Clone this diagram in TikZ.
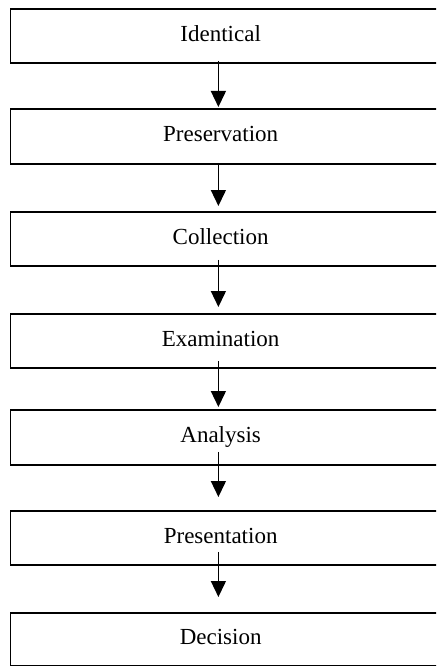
\documentclass[tikz,border=0pt]{standalone}
\usepackage{fontspec}
\setmainfont{Liberation Serif}
\usetikzlibrary{arrows.meta}
\begin{document}
\begin{tikzpicture}[x=1pt,y=1pt,
  stagebox/.style={draw=black, line width=1.8pt, rectangle, inner sep=0pt,
    minimum width=440pt, anchor=north west, text height=16pt, text depth=5pt,
    font=\fontsize{23}{26}\selectfont},
  arr/.style={line width=1.4pt, -{Triangle[length=16pt,width=15pt]}}]
\useasboundingbox (0,0) rectangle (436,-666);
\fill[white] (0,0) rectangle (436,-666);
\begin{scope}
\clip (0,0) rectangle (436,-666);
\node[stagebox, minimum height=54pt] (b1) at (9.5,-8) {\hspace*{-19.5pt}Identical};
\node[stagebox, minimum height=55pt] (b2) at (9.5,-108) {\hspace*{-19.5pt}Preservation};
\node[stagebox, minimum height=54pt] (b3) at (9.5,-211) {\hspace*{-19.5pt}Collection};
\node[stagebox, minimum height=54pt] (b4) at (9.5,-313) {\hspace*{-19.5pt}Examination};
\node[stagebox, minimum height=55pt] (b5) at (9.5,-409) {\hspace*{-19.5pt}Analysis};
\node[stagebox, minimum height=54pt] (b6) at (9.5,-510) {\hspace*{-19.5pt}Presentation};
\node[stagebox, minimum height=53pt] (b7) at (9.5,-612) {\hspace*{-19.5pt}Decision};
\end{scope}
\draw[arr] ([xshift=-12pt,yshift=3pt]b1.south) -- ([xshift=-12pt,yshift=1pt]b2.north);
\draw[arr] ([xshift=-12pt,yshift=2pt]b2.south) -- ([xshift=-12pt,yshift=5pt]b3.north);
\draw[arr] ([xshift=-12pt,yshift=7pt]b3.south) -- ([xshift=-12pt,yshift=6pt]b4.north);
\draw[arr] ([xshift=-12pt,yshift=8pt]b4.south) -- ([xshift=-12pt,yshift=2pt]b5.north);
\draw[arr] ([xshift=-12pt,yshift=14pt]b5.south) -- ([xshift=-12pt,yshift=13pt]b6.north);
\draw[arr] ([xshift=-12pt,yshift=14pt]b6.south) -- ([xshift=-12pt,yshift=15pt]b7.north);
\end{tikzpicture}
\end{document}
